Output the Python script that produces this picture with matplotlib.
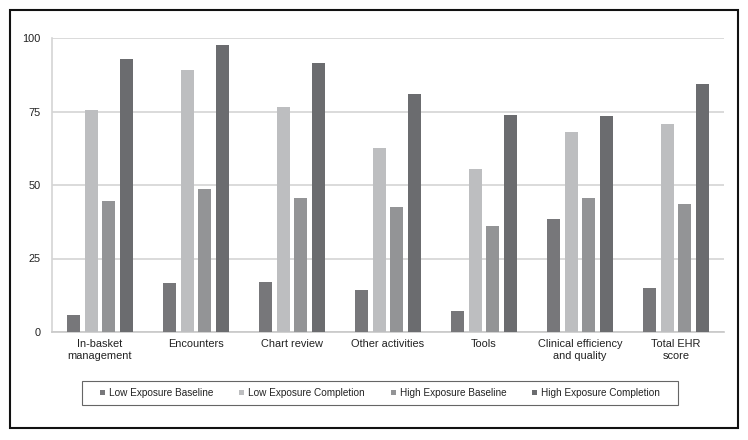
import numpy as np
import matplotlib.pyplot as plt
from matplotlib.patches import Rectangle

# category labels and series
categories = ['In-basket\nmanagement', 'Encounters', 'Chart review', 'Other activities',
              'Tools', 'Clinical efficiency\nand quality', 'Total EHR\nscore']
low_baseline = [5.8, 16.5, 17.0, 14.3, 7.0, 38.5, 14.8]
low_completion = [75.4, 89.2, 76.5, 62.5, 55.5, 68.0, 70.6]
high_baseline = [44.5, 48.5, 45.5, 42.5, 36.0, 45.5, 43.5]
high_completion = [93.0, 97.6, 91.4, 81.1, 73.8, 73.6, 84.2]
series_names = ['Low Exposure Baseline', 'Low Exposure Completion',
                'High Exposure Baseline', 'High Exposure Completion']
colors = ['#77777a', '#bdbec0', '#939496', '#6b6c6f']

plt.rcParams['font.family'] = ['Liberation Sans', 'DejaVu Sans']
fs = 7.9

fig = plt.figure(figsize=(7.48, 4.40), dpi=100)
ax = fig.add_axes([52/748, 1 - 332/440, (724-52)/748, (332-38)/440])

x = np.arange(len(categories))
width = 0.135
step = 0.182
all_series = [low_baseline, low_completion, high_baseline, high_completion]
for i, vals in enumerate(all_series):
    ax.bar(x + (i - 1.5) * step, vals, width, color=colors[i], label=series_names[i], zorder=3)

ax.set_xlim(-0.5, len(categories) - 0.5)
ax.set_ylim(0, 100)
ax.set_yticks([0, 25, 50, 75, 100])
ax.set_xticks(x)
ax.set_xticklabels(categories, fontsize=fs, color='#222222', linespacing=1.3)
ax.tick_params(axis='y', labelsize=fs, colors='#222222', length=0, pad=8)
ax.tick_params(axis='x', length=0, pad=5)
ax.grid(axis='y', color='#d4d4d4', linewidth=1.2, zorder=0)
for s in ['top', 'right']:
    ax.spines[s].set_visible(False)
ax.spines['left'].set_color('#d4d4d4')
ax.spines['bottom'].set_color('#c8c8c8')
ax.spines['left'].set_linewidth(1.2)
ax.spines['bottom'].set_linewidth(1.2)

leg = fig.legend(loc='center', bbox_to_anchor=(380/748, 1 - 393/440), ncol=4,
                 fontsize=7.2, frameon=False,
                 handlelength=0.5, handleheight=0.5, handletextpad=0.4, columnspacing=2.6,
                 borderpad=0, borderaxespad=0)
for t in leg.get_texts():
    t.set_color('#222222')

# legend box
fig.patches.append(Rectangle((82/748, 1 - 405/440), 596/748, 24/440, transform=fig.transFigure,
                             fill=False, edgecolor='#666666', linewidth=0.8))

# outer frame
fig.patches.append(Rectangle((10/748, 1 - 428/440), 728/748, 418/440, transform=fig.transFigure,
                             fill=False, edgecolor='#111111', linewidth=1.5))

fig.savefig('out.png', dpi=100)
